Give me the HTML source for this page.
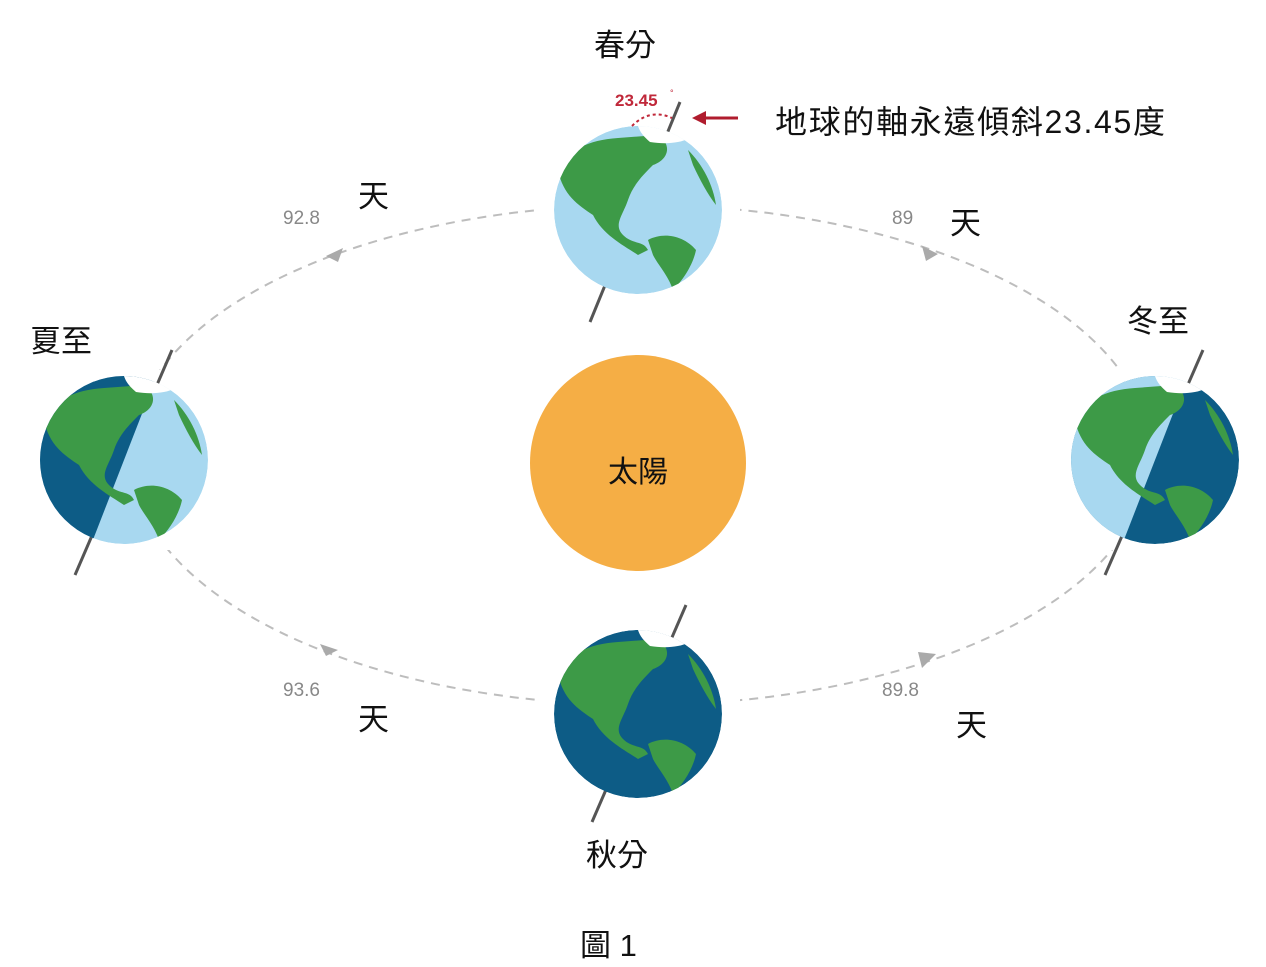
<!DOCTYPE html>
<html><head><meta charset="utf-8"><style>
body{margin:0;background:#fff;}
svg{display:block}
.t{font-family:"Liberation Sans","Noto Sans CJK TC",sans-serif;fill:#111}
.n{font-family:"Liberation Sans",sans-serif;fill:#888;font-size:19px}
</style></head><body>
<svg width="1266" height="967" viewBox="0 0 1266 967">
<defs>
<clipPath id="c"><circle cx="0" cy="0" r="84"/></clipPath>
<g id="land">
<path d="M-80,-40 C-70,-60 -50,-70 -20,-72 L20,-75 C35,-65 30,-50 15,-45 C5,-35 -5,-25 -10,-10 C-15,5 -25,15 -15,25 C-5,35 5,30 10,40 L0,45 C-15,35 -35,25 -45,5 C-60,-5 -75,-15 -80,-40Z" fill="#3d9a47"/>
<path d="M10,30 C25,22 45,25 58,40 C55,55 45,70 35,80 C30,65 20,55 15,45Z" fill="#3d9a47"/>
<path d="M50,-60 C65,-45 75,-25 78,-5 C70,-15 62,-30 55,-45Z" fill="#3d9a47"/>
<path d="M0,-84 C15,-88 35,-82 52,-72 C40,-66 25,-66 12,-68 C5,-74 2,-78 0,-84Z" fill="#fff"/>
</g>
</defs>
<ellipse cx="640" cy="455" rx="510" ry="250" fill="none" stroke="#bdbdbd" stroke-width="2" stroke-dasharray="9,7"/>
<polygon points="326,256 343,248 338,262" fill="#aaa"/>
<polygon points="922,246 938,254 926,261" fill="#aaa"/>
<polygon points="320,644 338,650 326,656" fill="#aaa"/>
<polygon points="918,652 936,654 922,668" fill="#aaa"/>
<rect x="540" y="130" width="200" height="170" fill="#fff"/>
<rect x="35" y="370" width="180" height="180" fill="#fff"/>
<rect x="1060" y="370" width="190" height="180" fill="#fff"/>
<rect x="540" y="625" width="200" height="175" fill="#fff"/>
<circle cx="638" cy="463" r="108" fill="#F5AE45"/>
<text class="t" x="638" y="482" font-size="30" text-anchor="middle">太陽</text>
<line x1="590" y1="322" x2="680" y2="102" stroke="#555" stroke-width="3"/>
<g transform="translate(638,210)"><g clip-path="url(#c)"><circle r="84" fill="#a8d8f0"/><use href="#land"/></g></g>
<line x1="75" y1="575" x2="172" y2="350" stroke="#555" stroke-width="3"/>
<g transform="translate(124,460)"><g clip-path="url(#c)"><circle r="84" fill="#a8d8f0"/><polygon points="-90,-90 35,-90 -35,90 -90,90" fill="#0d5c86"/><use href="#land"/></g></g>
<line x1="1105" y1="575" x2="1203" y2="350" stroke="#555" stroke-width="3"/>
<g transform="translate(1155,460)"><g clip-path="url(#c)"><circle r="84" fill="#0d5c86"/><polygon points="-90,-90 35,-90 -35,90 -90,90" fill="#a8d8f0"/><use href="#land"/></g></g>
<line x1="592" y1="822" x2="686" y2="605" stroke="#555" stroke-width="3"/>
<g transform="translate(638,714)"><g clip-path="url(#c)"><circle r="84" fill="#0d5c86"/><use href="#land"/></g></g>
<text x="615" y="106" font-family="Liberation Sans,sans-serif" font-weight="bold" font-size="17" fill="#c0283a">23.45</text>
<text x="670" y="96" font-family="Liberation Sans,sans-serif" font-size="9" fill="#c0283a">°</text>
<path d="M632,126 Q650,108 672,118" fill="none" stroke="#c0283a" stroke-width="2" stroke-dasharray="3,3"/>
<line x1="700" y1="118" x2="738" y2="118" stroke="#b01c2e" stroke-width="3"/>
<polygon points="692,118 706,111 706,125" fill="#b01c2e"/>
<text class="t" x="775" y="133" font-size="32" textLength="390">地球的軸永遠傾斜23.45度</text>
<text class="t" x="594" y="56" font-size="31">春分</text>
<text class="t" x="30" y="352" font-size="31">夏至</text>
<text class="t" x="1127" y="332" font-size="31">冬至</text>
<text class="t" x="586" y="866" font-size="31">秋分</text>
<text class="t" x="580" y="956" font-size="31">圖 1</text>
<text class="t" x="358" y="207" font-size="31">天</text>
<text class="t" x="950" y="234" font-size="31">天</text>
<text class="t" x="358" y="730" font-size="31">天</text>
<text class="t" x="956" y="736" font-size="31">天</text>
<text class="n" x="283" y="224">92.8</text>
<text class="n" x="892" y="224">89</text>
<text class="n" x="283" y="696">93.6</text>
<text class="n" x="882" y="696">89.8</text>
</svg>
</body></html>
